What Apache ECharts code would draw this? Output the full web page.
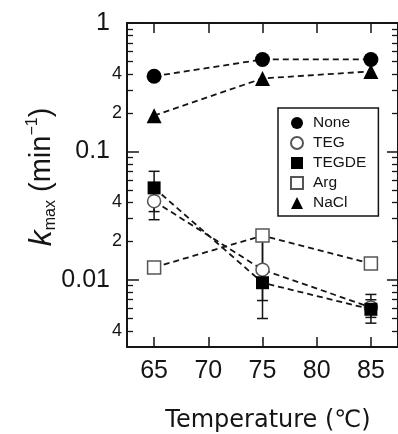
<!DOCTYPE html>
<html>
<head>
<meta charset="utf-8">
<script src="https://cdn.jsdelivr.net/npm/echarts@6/dist/echarts.min.js"></script>
<style>
html,body{margin:0;padding:0;background:#fff;}
#c{width:398px;height:434px;}
</style>
</head>
<body>
<div id="c"></div>
<script>
// ---- data ----
const temps = [65, 75, 85];
const seriesNames = ['None', 'TEG', 'TEGDE', 'Arg', 'NaCl'];
const noneVals  = [0.385, 0.52, 0.52];
const tegVals   = [0.041, 0.0120, 0.0061];
const tegdeVals = [0.052, 0.0095, 0.0059];
const argVals   = [0.0125, 0.0221, 0.0134];
const naclVals  = [0.19, 0.37, 0.42];
const tegLow    = [0.0294, 0.0069, 0.0046];
const tegHigh   = [0.050, 0.021, 0.0077];
const tegdeLow  = [0.034, 0.0050, 0.0051];
const tegdeHigh = [0.070, 0.021, 0.0070];
// ---- ticks ----
const xTicks = [65, 70, 75, 80, 85];
const yMajor = [0.01, 0.1, 1];
const yMinor = [0.004,0.005,0.006,0.007,0.008,0.009,
                0.02,0.03,0.04,0.05,0.06,0.07,0.08,0.09,
                0.2,0.3,0.4,0.5,0.6,0.7,0.8,0.9];
const yMinorLabels = [0.004, 0.02, 0.04, 0.2, 0.4];
const xMin = 62.5, xMax = 87.5, yMin = 0.003, yMax = 1;

const FONT = '"Liberation Sans", Arial, sans-serif';
const INK = '#151515';

function pairs(vals){ return temps.map((t,i)=>[t, vals[i]]); }
function errData(low, high){ return temps.map((t,i)=>[t, low[i], high[i]]); }

const chart = echarts.init(document.getElementById('c'), null, {renderer:'canvas'});

const lineStyle = {color: INK, width: 1.8, type: [6, 4]};

function errSeries(name, low, high){
  return {
    type: 'custom', name: name + ' err', coordinateSystem: 'cartesian2d',
    xAxisIndex: 0, yAxisIndex: 0, z: 1, silent: true, clip: false,
    encode: {x: 0, y: [1, 2]},
    data: errData(low, high),
    renderItem: function(params, api){
      const x = api.value(0);
      const p1 = api.coord([x, api.value(1)]);
      const p2 = api.coord([x, api.value(2)]);
      const w = 5.5;
      const st = {stroke: INK, lineWidth: 1.5};
      return {type: 'group', children: [
        {type:'line', shape:{x1:p1[0], y1:p1[1], x2:p2[0], y2:p2[1]}, style: st},
        {type:'line', shape:{x1:p1[0]-w, y1:p1[1], x2:p1[0]+w, y2:p1[1]}, style: st},
        {type:'line', shape:{x1:p2[0]-w, y1:p2[1], x2:p2[0]+w, y2:p2[1]}, style: st}
      ]};
    }
  };
}

function lineSeries(name, vals, symbol, size, itemStyle){
  return {
    type: 'line', name: name, data: pairs(vals), xAxisIndex: 0, yAxisIndex: 0,
    symbol: symbol, symbolSize: size, showAllSymbol: true, z: 3,
    lineStyle: lineStyle, itemStyle: itemStyle, emphasis: {disabled: true}
  };
}

const filled = {color: '#000', borderColor: '#000', borderWidth: 0};
const open = {color: '#fff', borderColor: '#555', borderWidth: 1.5};

const digitFmt = v => {
  const e = Math.floor(Math.log10(v) + 1e-9);
  return String(Math.round(v / Math.pow(10, e)));
};

const option = {
  animation: false,
  backgroundColor: '#fff',
  grid: {left: 127, right: -1, top: 23, bottom: 87},
  legend: {
    orient: 'vertical', left: 278, top: 108,
    padding: [7, 12, 5, 12], itemGap: 4, itemWidth: 12, itemHeight: 12,
    borderColor: INK, borderWidth: 1.5, borderRadius: 0,
    textStyle: {fontFamily: FONT, fontSize: 15.5, color: INK, padding: [0, 0, 0, 5]},
    data: [
      {name: 'None', icon: 'circle'},
      {name: 'TEG', icon: 'circle'},
      {name: 'TEGDE', icon: 'rect'},
      {name: 'Arg', icon: 'rect'},
      {name: 'NaCl', icon: 'triangle'}
    ],
    selectedMode: false
  },
  xAxis: [
    {
      type: 'value', min: xMin, max: xMax, position: 'bottom',
      axisLine: {lineStyle: {color: INK, width: 2}},
      axisTick: {inside: true, length: 10, customValues: xTicks, lineStyle: {color: INK, width: 1.5}},
      axisLabel: {customValues: xTicks, fontFamily: FONT, fontSize: 25, color: INK, margin: 12},
      splitLine: {show: false}
    },
    {
      type: 'value', min: xMin, max: xMax, position: 'top',
      axisLine: {lineStyle: {color: INK, width: 2}},
      axisTick: {inside: true, length: 10, customValues: xTicks, lineStyle: {color: INK, width: 1.5}},
      axisLabel: {show: false},
      splitLine: {show: false}
    }
  ],
  yAxis: [
    {
      type: 'log', min: yMin, max: yMax, position: 'left',
      axisLine: {show: true, lineStyle: {color: INK, width: 2}},
      axisTick: {show: true, inside: true, length: 12, customValues: yMajor, lineStyle: {color: INK, width: 1.5}},
      axisLabel: {customValues: yMajor, fontFamily: FONT, fontSize: 25, color: INK, margin: 17,
                  formatter: v => String(Number(Number(v).toPrecision(3)))},
      splitLine: {show: false}
    },
    {
      type: 'log', min: yMin, max: yMax, position: 'left',
      axisLine: {show: false},
      axisTick: {show: true, inside: true, length: 6, customValues: yMinor, lineStyle: {color: INK, width: 1.3}},
      axisLabel: {customValues: yMinorLabels, fontFamily: FONT, fontSize: 18, color: INK, margin: 5,
                  formatter: digitFmt},
      splitLine: {show: false}
    },
    {
      type: 'log', min: yMin, max: yMax, position: 'right',
      axisLine: {show: true, lineStyle: {color: INK, width: 2}},
      axisTick: {show: true, inside: true, length: 11, customValues: yMajor, lineStyle: {color: INK, width: 1.5}},
      axisLabel: {show: false},
      splitLine: {show: false}
    },
    {
      type: 'log', min: yMin, max: yMax, position: 'right',
      axisLine: {show: false},
      axisTick: {show: true, inside: true, length: 6, customValues: yMinor, lineStyle: {color: INK, width: 1.3}},
      axisLabel: {show: false},
      splitLine: {show: false}
    }
  ],
  graphic: [
    {
      type: 'text', x: 42, y: 177, rotation: Math.PI / 2,
      style: {
        text: '{k|k}{sub|max}{n| (min}{sup|−1}{n|)}',
        align: 'center', verticalAlign: 'middle',
        rich: {
          k:   {fontFamily: FONT, fontSize: 32, fontStyle: 'italic', fill: INK, lineHeight: 34, verticalAlign: 'middle'},
          n:   {fontFamily: FONT, fontSize: 29, fill: INK, lineHeight: 34, verticalAlign: 'middle'},
          sub: {fontFamily: FONT, fontSize: 16, fill: INK, lineHeight: 16, verticalAlign: 'bottom'},
          sup: {fontFamily: FONT, fontSize: 16, fill: INK, lineHeight: 16, verticalAlign: 'top'}
        }
      }
    },
    {
      type: 'text', x: 268, y: 421,
      style: {
        text: 'Temperature (℃)', fontFamily: '"DejaVu Sans", sans-serif', fontSize: 24,
        fill: INK, align: 'center', verticalAlign: 'middle'
      }
    }
  ],
  series: [
    errSeries('TEG', tegLow, tegHigh),
    errSeries('TEGDE', tegdeLow, tegdeHigh),
    lineSeries('None', noneVals, 'circle', 15, filled),
    lineSeries('TEG', tegVals, 'circle', 13, open),
    lineSeries('TEGDE', tegdeVals, 'rect', 13, filled),
    lineSeries('Arg', argVals, 'rect', 13, open),
    lineSeries('NaCl', naclVals, 'triangle', 15, filled)
  ]
};
chart.setOption(option);
</script>
</body>
</html>
